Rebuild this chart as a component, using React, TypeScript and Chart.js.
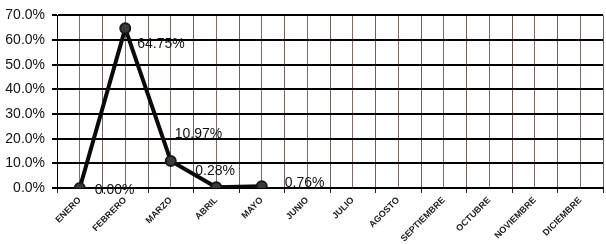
import React, { useEffect, useRef } from "react";
import { Chart, registerables } from "chart.js";

Chart.register(...registerables);

const months = [
  "ENERO", "FEBRERO", "MARZO", "ABRIL", "MAYO", "JUNIO",
  "JULIO", "AGOSTO", "SEPTIEMBRE", "OCTUBRE", "NOVIEMBRE", "DICIEMBRE",
];
const percentages: (number | null)[] = [0.0, 64.75, 10.97, 0.28, 0.76, null, null, null, null, null, null, null];
const yTicks = [0, 10, 20, 30, 40, 50, 60, 70];

const labelOffsets = [
  [15, 2],
  [12, 16],
  [4, -27],
  [-21, -16],
  [23, -3],
];

const labelPlugin = {
  id: "pointLabels",
  afterDatasetsDraw(chart: any) {
    const ctx = chart.ctx;
    const meta = chart.getDatasetMeta(0);
    ctx.save();
    ctx.font = "14px 'Liberation Sans', Arial, sans-serif";
    ctx.fillStyle = "#111";
    ctx.textAlign = "left";
    ctx.textBaseline = "middle";
    meta.data.forEach((pt: any, i: number) => {
      const v = percentages[i];
      if (v === null || v === undefined) return;
      const off = labelOffsets[i] || [10, 0];
      ctx.fillText(v.toFixed(2) + "%", pt.x + off[0], pt.y + off[1]);
    });
    ctx.restore();
  },
};

export default function App() {
  const ref = useRef<HTMLCanvasElement>(null);
  useEffect(() => {
    if (!ref.current) return;
    const chart = new Chart(ref.current, {
      type: "line",
      data: {
        labels: months,
        datasets: [
          {
            data: percentages,
            borderColor: "#0a0a0a",
            borderWidth: 4,
            pointRadius: 5,
            pointBackgroundColor: "#3a3a3a",
            pointBorderColor: "#1a1a1a",
            pointBorderWidth: 2,
            spanGaps: false,
            xAxisID: "x",
          },
        ],
      },
      options: {
        responsive: false,
        animation: false,
        layout: { padding: { top: 14, right: 1, left: 0, bottom: 0 } },
        plugins: { legend: { display: false }, tooltip: { enabled: false } },
        scales: {
          x: {
            type: "category",
            offset: true,
            grid: {
              offset: true,
              color: "#6e625a",
              lineWidth: 1,
              tickLength: 5,
              tickColor: "#222",
            },
            border: { color: "#000", width: 2 },
            ticks: {
              autoSkip: false,
              minRotation: 45,
              maxRotation: 45,
              padding: 2,
              color: "#222",
              font: { family: "'Liberation Sans', Arial, sans-serif", size: 9, weight: "bold" },
            },
            afterFit(scale: any) {
              scale.height = 56;
            },
          },
          x2: {
            type: "category",
            labels: months,
            offset: true,
            position: "bottom",
            display: true,
            grid: { offset: false, color: "#7a6e66", lineWidth: 1, drawTicks: false },
            border: { display: false },
            ticks: { display: false },
            afterFit(scale: any) {
              scale.height = 0;
            },
          },
          y: {
            min: 0,
            max: 70,
            afterBuildTicks(scale: any) {
              scale.ticks = yTicks.map((v) => ({ value: v }));
            },
            grid: { color: "#000", lineWidth: 2, tickLength: 5, tickColor: "#000" },
            border: { color: "#000", width: 1 },
            ticks: {
              padding: 7,
              color: "#111",
              font: { family: "'Liberation Sans', Arial, sans-serif", size: 14 },
              callback: (v: any) => Number(v).toFixed(1) + "%",
            },
            afterFit(scale: any) {
              scale.width = 57;
            },
          },
        },
      },
      plugins: [labelPlugin],
    });
    return () => chart.destroy();
  }, []);
  return (
    <div style={{ position: "absolute", left: 0, top: 0, width: 606, height: 244, overflow: "hidden", background: "#fff" }}>
      <canvas ref={ref} width={610} height={244} style={{ display: "block" }} />
    </div>
  );
}
